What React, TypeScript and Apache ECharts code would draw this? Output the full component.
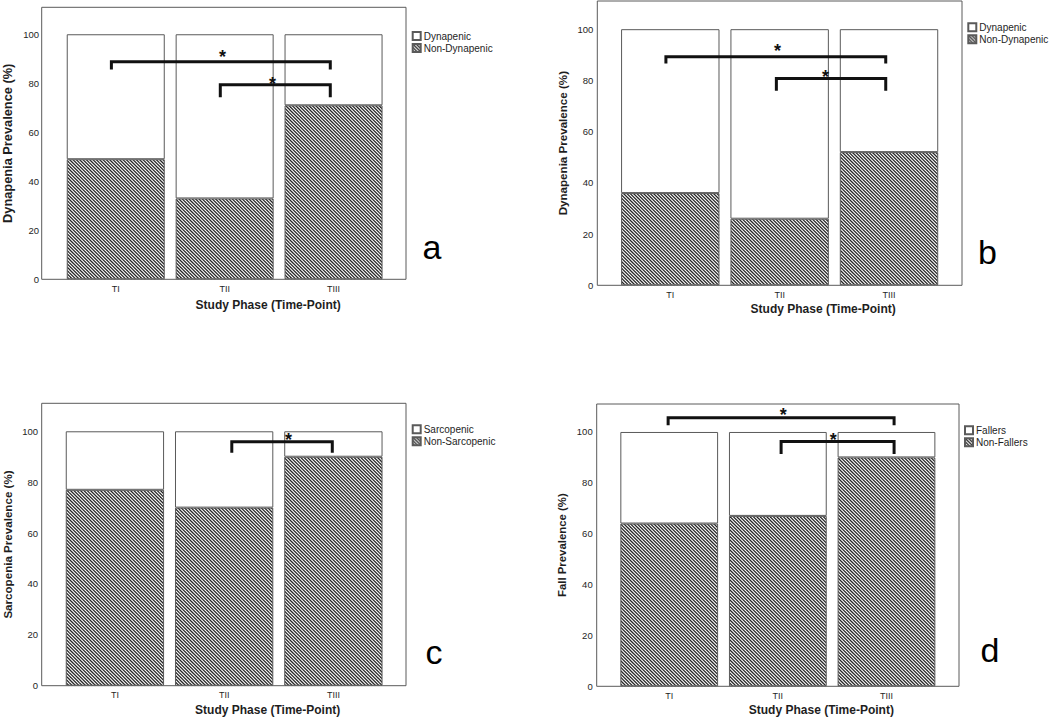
import React, { useEffect, useRef } from 'react';
import * as echarts from 'echarts';

// ---- data ----
const phases = ['TI', 'TII', 'TIII'];

const nonDynapenicA = [49, 33, 71];
const dynapenicA = [51, 67, 29];
const nonDynapenicB = [36, 26, 52];
const dynapenicB = [64, 74, 48];
const nonSarcopenic = [77, 70, 90];
const sarcopenic = [23, 30, 10];
const nonFallers = [64, 67, 90];
const fallers = [36, 33, 10];

// bracket rows: [fromIdx, toIdx, lineValue, tickEndValue, starIdx, starValue]
const bracketsA = [
  [-0.04, 1.97, 88.8, 85.6, 0.98, 92.4],
  [0.96, 1.97, 79.4, 74.3, 1.44, 81.5],
];
const bracketsB = [
  [-0.04, 1.97, 89.2, 86.6, 0.98, 93.0],
  [0.97, 1.97, 80.7, 76.0, 1.42, 82.9],
];
const bracketsC = [[1.07, 1.99, 95.9, 91.6, 1.59, 98.3]];
const bracketsD = [
  [-0.01, 2.07, 105.6, 102.6, 1.05, 108.3],
  [1.03, 2.07, 96.3, 91.3, 1.51, 98.3],
];

const yTicksMax = 111;
const xAxisTitle = 'Study Phase (Time-Point)';

const FONT = '"Liberation Sans", Arial, sans-serif';
const INK = '#1e1e1e';
const EDGE = '#5a5a5a';

const panels = [
  { letter: 'a', yName: 'Dynapenia Prevalence (%)', yNameSize: 12.8, white: 'Dynapenic', hatched: 'Non-Dynapenic', whiteVals: dynapenicA, hatchedVals: nonDynapenicA, brackets: bracketsA },
  { letter: 'b', yName: 'Dynapenia Prevalence (%)', yNameSize: 11.6, white: 'Dynapenic', hatched: 'Non-Dynapenic', whiteVals: dynapenicB, hatchedVals: nonDynapenicB, brackets: bracketsB },
  { letter: 'c', yName: 'Sarcopenia Prevalence (%)', yNameSize: 11.6, white: 'Sarcopenic', hatched: 'Non-Sarcopenic', whiteVals: sarcopenic, hatchedVals: nonSarcopenic, brackets: bracketsC },
  { letter: 'd', yName: 'Fall Prevalence (%)', yNameSize: 11.4, white: 'Fallers', hatched: 'Non-Fallers', whiteVals: fallers, hatchedVals: nonFallers, brackets: bracketsD },
];

const layouts = [
  { left: 41.7, top: 7.3, width: 364.3, height: 272, innerLeft: 60, innerWidth: 328, xNameGap: 20, legendLeft: 411.7, legendTop: 30, letterX: 422.5, letterY: 246.5 },
  { left: 597.3, top: 1, width: 364.7, height: 284.3, innerLeft: 615.6, innerWidth: 328.1, xNameGap: 17.7, legendLeft: 967.3, legendTop: 21.3, letterX: 978, letterY: 251.5 },
  { left: 41.7, top: 403.3, width: 364.3, height: 282.4, innerLeft: 60, innerWidth: 328, xNameGap: 18, legendLeft: 411.7, legendTop: 423.2, letterX: 425.5, letterY: 652 },
  { left: 596.7, top: 404, width: 362.3, height: 282.3, innerLeft: 614.9, innerWidth: 325.9, xNameGap: 17.5, legendLeft: 964, legendTop: 424.2, letterX: 980.5, letterY: 650 },
];

function makeHatchTile(): HTMLCanvasElement {
  const s = 10;
  const c = document.createElement('canvas');
  c.width = s;
  c.height = s;
  const ctx = c.getContext('2d')!;
  ctx.fillStyle = '#ffffff';
  ctx.fillRect(0, 0, s, s);
  ctx.strokeStyle = '#262626';
  ctx.lineWidth = 1.25;
  const step = s / 3;
  for (let k = -6; k <= 6; k++) {
    const x0 = k * step;
    ctx.beginPath();
    ctx.moveTo(x0 - s, -s);
    ctx.lineTo(x0 + 2 * s, 2 * s);
    ctx.stroke();
  }
  return c;
}

function buildOption() {
  const hatchFill = { image: makeHatchTile(), repeat: 'repeat' };
  const grid: any[] = [];
  const xAxis: any[] = [];
  const yAxis: any[] = [];
  const series: any[] = [];
  const legend: any[] = [];
  const graphic: any[] = [];

  panels.forEach((p, i) => {
    const L = layouts[i];
    const frameIdx = 2 * i;
    const innerIdx = 2 * i + 1;

    grid.push({
      left: L.left, top: L.top, width: L.width, height: L.height,
      show: true, borderColor: EDGE, borderWidth: 1, backgroundColor: 'transparent',
    });
    grid.push({
      left: L.innerLeft, top: L.top, width: L.innerWidth, height: L.height,
      show: false,
    });

    xAxis.push({ gridIndex: frameIdx, type: 'value', min: 0, max: 1, show: false });
    yAxis.push({ gridIndex: frameIdx, type: 'value', min: 0, max: 1, show: false });

    xAxis.push({
      gridIndex: innerIdx,
      type: 'category',
      data: phases,
      axisLine: { show: false },
      axisTick: { show: false },
      axisLabel: { fontSize: 9, color: INK, margin: 5, fontFamily: FONT },
      name: xAxisTitle,
      nameLocation: 'middle',
      nameGap: L.xNameGap,
      nameTextStyle: { fontSize: 12, fontWeight: 'bold', color: INK, fontFamily: FONT, padding: [0, 0, 0, 87] },
    });
    yAxis.push({
      gridIndex: innerIdx,
      type: 'value',
      min: 0,
      max: yTicksMax,
      interval: 20,
      offset: L.innerLeft - L.left,
      axisLine: { show: false },
      axisTick: { show: false },
      splitLine: { show: false },
      axisLabel: { fontSize: 9.5, color: INK, margin: 4, showMaxLabel: false, fontFamily: FONT },
      name: p.yName,
      nameLocation: 'middle',
      nameGap: 29,
      nameTextStyle: { fontSize: p.yNameSize, fontWeight: 'bold', color: INK, fontFamily: FONT },
    });

    series.push({
      type: 'bar',
      name: p.hatched,
      xAxisIndex: innerIdx,
      yAxisIndex: innerIdx,
      stack: 'p' + i,
      data: p.hatchedVals,
      barCategoryGap: '10%',
      itemStyle: { color: hatchFill, borderColor: EDGE, borderWidth: 1 },
      emphasis: { disabled: true },
    });
    series.push({
      type: 'bar',
      name: p.white,
      xAxisIndex: innerIdx,
      yAxisIndex: innerIdx,
      stack: 'p' + i,
      data: p.whiteVals,
      barCategoryGap: '10%',
      itemStyle: { color: '#ffffff', borderColor: EDGE, borderWidth: 1 },
      emphasis: { disabled: true },
    });

    const rows = p.brackets;
    series.push({
      type: 'custom',
      xAxisIndex: innerIdx,
      yAxisIndex: innerIdx,
      silent: true,
      z: 5,
      data: rows.map((r, k) => [k, r[2]]),
      renderItem: (params: any, api: any) => {
        const r = rows[params.dataIndex];
        const c0 = api.coord([0, 0]);
        const c1 = api.coord([1, 0]);
        const band = c1[0] - c0[0];
        const X = (v: number) => c0[0] + v * band;
        const Y = (v: number) => api.coord([0, v])[1];
        const yl = Y(r[2]);
        const ye = Y(r[3]);
        return {
          type: 'group',
          children: [
            {
              type: 'polyline',
              shape: { points: [[X(r[0]), ye], [X(r[0]), yl], [X(r[1]), yl], [X(r[1]), ye]] },
              style: { stroke: '#111', lineWidth: 3, fill: null, lineJoin: 'miter' },
            },
            {
              type: 'text',
              x: X(r[4]),
              y: Y(r[5]) + 4,
              style: { text: '*', fill: '#111', fontSize: 18, fontWeight: 'bold', fontFamily: FONT, align: 'center', verticalAlign: 'middle' },
            },
          ],
        };
      },
    });

    legend.push({
      data: [p.white, p.hatched],
      orient: 'vertical',
      left: L.legendLeft,
      top: L.legendTop,
      padding: 0,
      icon: 'rect',
      itemWidth: 8,
      itemHeight: 8,
      itemGap: 0,
      selectedMode: false,
      textStyle: { fontSize: 10, color: INK, fontFamily: FONT, lineHeight: 12, padding: [0, 0, 0, -2] },
    });

    graphic.push({
      type: 'text',
      x: L.letterX,
      y: L.letterY,
      style: { text: p.letter, fontSize: 34, fill: '#000', fontFamily: FONT, align: 'left', verticalAlign: 'middle' },
    });
  });

  return {
    animation: false,
    backgroundColor: '#ffffff',
    grid,
    xAxis,
    yAxis,
    series,
    legend,
    graphic,
  };
}

export default function App() {
  const ref = useRef<HTMLDivElement>(null);
  useEffect(() => {
    if (!ref.current) return;
    const chart = echarts.init(ref.current, undefined, { renderer: 'svg' });
    chart.setOption(buildOption() as any);
    return () => chart.dispose();
  }, []);
  return (
    <div
      ref={ref}
      style={{ position: 'absolute', left: 0, top: 0, width: 1049, height: 717, background: '#fff' }}
    />
  );
}
